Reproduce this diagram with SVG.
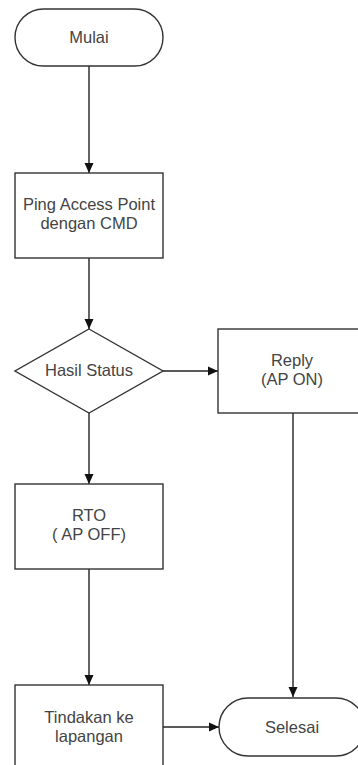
<svg xmlns="http://www.w3.org/2000/svg" width="358" height="765" viewBox="0 0 358 765">
<defs>
<style>
.shape{fill:#fff;stroke:#333;stroke-width:1.4}
.conn{fill:none;stroke:#222;stroke-width:1.4}
text{font-family:"Liberation Sans",Arial,sans-serif;font-size:16.5px;fill:#444;text-anchor:middle}
</style>
<marker id="arr" markerUnits="userSpaceOnUse" markerWidth="10" markerHeight="10" viewBox="0 0 10 10" refX="10" refY="5" orient="auto">
<path d="M0,0.5 L10,5 L0,9.5 z" fill="#111"/>
</marker>
</defs>
<rect width="358" height="765" fill="#fff"/>
<g id="connectors">
<path class="conn" d="M89,66 V173" marker-end="url(#arr)"/>
<path class="conn" d="M89,258 V329" marker-end="url(#arr)"/>
<path class="conn" d="M163,371 H218" marker-end="url(#arr)"/>
<path class="conn" d="M89,413 V484" marker-end="url(#arr)"/>
<path class="conn" d="M293,413 V697" marker-end="url(#arr)"/>
<path class="conn" d="M89,569 V685" marker-end="url(#arr)"/>
<path class="conn" d="M163,727 H219" marker-end="url(#arr)"/>
</g>
<g id="mulai">
<rect class="shape" x="15" y="9" width="148" height="57" rx="28.5"/>
<text x="89" y="43">Mulai</text>
</g>
<g id="ping">
<rect class="shape" x="15" y="173" width="148" height="85"/>
<text x="89" y="210">Ping Access Point</text>
<text x="89" y="229">dengan CMD</text>
</g>
<g id="hasil">
<path class="shape" d="M89,329 L163,371 L89,413 L15,371 Z"/>
<text x="89" y="376">Hasil Status</text>
</g>
<g id="reply">
<rect class="shape" x="218" y="329" width="150" height="84"/>
<text x="292" y="366">Reply</text>
<text x="292" y="385">(AP ON)</text>
</g>
<g id="rto">
<rect class="shape" x="15" y="484" width="148" height="85"/>
<text x="89" y="521">RTO</text>
<text x="89" y="540">( AP OFF)</text>
</g>
<g id="tindakan">
<rect class="shape" x="15" y="685" width="148" height="90"/>
<text x="89" y="723">Tindakan ke</text>
<text x="89" y="742">lapangan</text>
</g>
<g id="selesai">
<rect class="shape" x="219" y="698" width="146" height="58" rx="29"/>
<text x="292" y="733">Selesai</text>
</g>
</svg>
